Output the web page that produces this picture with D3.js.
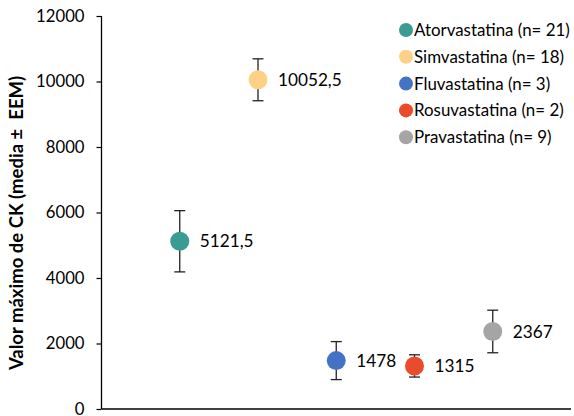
<!DOCTYPE html>
<html><head><meta charset="utf-8">
<script src="https://cdn.jsdelivr.net/npm/d3@7"></script>
<style>body{margin:0;background:#fff}svg{display:block}</style>
</head><body>
<script>
const categories = ["Atorvastatina (n= 21)","Simvastatina (n= 18)","Fluvastatina (n= 3)","Rosuvastatina (n= 2)","Pravastatina (n= 9)"];
const means = [5121.5, 10052.5, 1478, 1315, 2367];
const errors = [935, 640, 580, 340, 650];
const labels = ["5121,5","10052,5","1478","1315","2367"];
const colors = ["#3A9B93","#FDD185","#4472C4","#EA4B2A","#A5A5A5"];
const yTicks = [0,2000,4000,6000,8000,10000,12000];

const W=574,H=416;
const font="Lato, 'Open Sans', sans-serif";
const svg=d3.select("body").append("svg").attr("width",W).attr("height",H);
const x=d3.scaleLinear().domain([0,6]).range([101.5,571]);
const y=d3.scaleLinear().domain([0,12000]).range([409,16]);

// y axis
const ya=svg.append("g").attr("transform","translate(101.5,0)")
  .call(d3.axisLeft(y).tickValues(yTicks).tickSize(5).tickPadding(12).tickFormat(d3.format("d")));
ya.select(".domain").attr("stroke","#000").attr("stroke-width",1.3).attr("d","M0,16V409");
ya.selectAll(".tick line").attr("stroke","#000").attr("stroke-width",1.2);
ya.selectAll(".tick text").attr("font-family",font).attr("font-size",16.7).attr("fill","#000");

// x axis line
svg.append("line").attr("x1",x(0)).attr("x2",x(6)).attr("y1",y(0)).attr("y2",y(0))
  .attr("stroke","#000").attr("stroke-width",1.3);

// y title
svg.append("text").attr("transform","translate(23,223) rotate(-90)")
  .attr("text-anchor","middle").attr("font-family",font).attr("font-weight","bold")
  .attr("font-size",18.5).attr("fill","#000").attr("xml:space","preserve")
  .style("white-space","pre").text("Valor máximo de CK (media ±  EEM)");

const g=svg.append("g");
categories.forEach((c,i)=>{
  const cx=x(i+1);
  const gi=g.append("g");
  gi.append("line").attr("x1",cx).attr("x2",cx).attr("y1",y(means[i]+errors[i])).attr("y2",y(means[i]-errors[i])).attr("stroke","#222").attr("stroke-width",1.3);
  [means[i]+errors[i],means[i]-errors[i]].forEach(v=>{
    gi.append("line").attr("x1",cx-5.5).attr("x2",cx+5.5).attr("y1",y(v)).attr("y2",y(v)).attr("stroke","#222").attr("stroke-width",1.3);
  });
  gi.append("circle").attr("cx",cx).attr("cy",y(means[i])).attr("r",9.5).attr("fill",colors[i]);
  gi.append("text").attr("x",cx+20).attr("y",y(means[i])).attr("dy","0.36em")
    .attr("font-family",font).attr("font-size",17.2).attr("fill","#000").text(labels[i]);
});

// legend
const lg=svg.append("g");
categories.forEach((c,i)=>{
  const cy=30+i*26.8;
  lg.append("circle").attr("cx",406).attr("cy",cy).attr("r",7).attr("fill",colors[i]);
  lg.append("text").attr("x",414).attr("y",cy).attr("dy","0.36em")
    .attr("font-family",font).attr("font-size",16.9).attr("fill","#000").text(c);
});
</script>
</body></html>
